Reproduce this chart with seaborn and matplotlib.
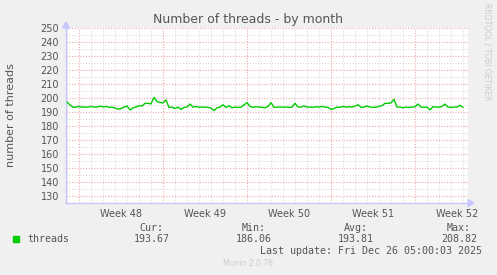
import numpy as np
import pandas as pd
import matplotlib
matplotlib.use("Agg")
import matplotlib.pyplot as plt
import seaborn as sns
from matplotlib.ticker import MultipleLocator, FixedLocator

# ---------------- data ----------------
title = "Number of threads - by month"
ylabel = "number of threads"
series_name = "threads"
week_labels = ["Week 48", "Week 49", "Week 50", "Week 51", "Week 52"]
y_ticks = [130, 140, 150, 160, 170, 180, 190, 200, 210, 220, 230, 240, 250]
threads = [
    197.1, 195.0, 193.3, 193.5, 194.0, 193.5, 193.5, 193.5, 194.0, 193.5,
    193.5, 194.2, 193.6, 194.0, 193.3, 193.5, 192.8, 192.0, 192.5, 193.5,
    194.3, 191.5, 193.0, 193.5, 194.5, 194.3, 196.2, 196.2, 195.8, 200.5,
    197.5, 196.8, 196.5, 198.6, 193.3, 193.5, 192.5, 193.5, 191.8, 193.3,
    193.5, 195.7, 193.5, 194.0, 193.3, 193.5, 193.5, 193.3, 192.8, 191.0,
    193.0, 193.5, 195.2, 193.3, 194.5, 193.0, 193.5, 193.3, 193.5, 195.0,
    196.7, 194.0, 193.3, 193.8, 193.5,
    193.3, 193.0, 194.0, 196.7, 193.3, 193.5, 193.5, 193.5, 193.5, 193.3,
    193.5, 196.2, 193.6, 193.5, 194.3, 193.5, 193.5, 193.3, 193.8, 193.5,
    194.0, 193.5, 193.3, 191.8, 192.5, 193.5, 193.3, 194.0, 193.5, 193.8,
    193.5, 194.2, 195.2, 193.3, 193.5, 194.3, 193.5, 193.3, 193.5, 194.0,
    194.5, 196.2, 196.2, 196.5, 199.1, 193.5, 193.5, 193.0, 193.5, 193.3,
    193.5, 193.8, 195.7, 193.5, 193.3, 193.5, 191.5, 193.8, 193.5, 193.5,
    194.0, 195.7, 193.5, 193.3, 193.5, 193.5, 194.8, 193.3,
]
legend_headers = ["Cur:", "Min:", "Avg:", "Max:"]
legend_values = ["193.67", "186.06", "193.81", "208.82"]
last_update = "Last update: Fri Dec 26 05:00:03 2025"
version = "Munin 2.0.76"
watermark = "RRDTOOL / TOBI OETIKER"

# ---------------- layout ----------------
W, H = 497, 275
DPI = 100
sns.set_theme(style="white")
plt.rcParams["font.family"] = ["DejaVu Sans"]

fig = plt.figure(figsize=(W / DPI, H / DPI), dpi=DPI, facecolor="#F0F0F0")
L, R, T, B = 66, 468, 28, 203
ax = fig.add_axes([L / W, 1 - B / H, (R - L) / W, (B - T) / H])
ax.set_facecolor("white")

# time axis in days: 0 at left edge (px 66), 12 px per day
step = 0.25
x0 = 1.0 / 12
days = x0 + step * np.arange(len(threads))
df = pd.DataFrame({"day": days, "threads": threads})

ax.set_xlim(0, (R - L) / 12)
ax.set_ylim(125, 250)

# grid
first_major = 13 / 12
minor_x = [first_major - 1 + k for k in range(0, 35) if first_major - 1 + k <= (R - L) / 12]
major_x = [first_major + 7 * k for k in range(5)]
for xv in minor_x:
    if not any(abs(xv - m) < 1e-6 for m in major_x):
        ax.axvline(xv, color="#DDDDDD", lw=0.8, ls=(0, (1, 1.5)), zorder=1)
for yv in np.arange(125, 251, 5):
    if yv % 10 != 0:
        ax.axhline(yv, color="#DDDDDD", lw=0.8, ls=(0, (1, 1.5)), zorder=1)
for yv in y_ticks:
    ax.axhline(yv, color="#EBA8A8", lw=0.8, ls=(0, (1, 1.5)), zorder=1)
for xv in major_x:
    ax.axvline(xv, color="#EBA8A8", lw=0.8, ls=(0, (1, 1.5)), zorder=1)

sns.lineplot(data=df, x="day", y="threads", ax=ax, color="#00CC00", lw=1.0, zorder=3)

# ticks
ax.yaxis.set_major_locator(FixedLocator(y_ticks))
ax.set_yticklabels([str(v) for v in y_ticks])
ax.set_xticks([m + 3.5 for m in major_x])
ax.set_xticklabels(week_labels)
ax.tick_params(axis="both", length=0, labelsize=7, labelcolor="#555555")
ax.tick_params(axis="y", pad=5)
ax.tick_params(axis="x", pad=4)
ax.set_xlabel("")
ax.set_ylabel("")

for s in ["top", "right"]:
    ax.spines[s].set_visible(False)
for s in ["left", "bottom"]:
    ax.spines[s].set_color("#C8C8FF")
    ax.spines[s].set_linewidth(1.0)

# axis arrows
fig.patches.append(matplotlib.patches.FancyArrow(
    L / W, 1 - T / H, 0, 6 / H, width=0.0005, head_width=7 / W, head_length=6 / H,
    length_includes_head=True, color="#C8C8FF", transform=fig.transFigure))
fig.patches.append(matplotlib.patches.FancyArrow(
    R / W, 1 - B / H, 6 / W, 0, width=0.0005, head_width=7 / H, head_length=6 / W,
    length_includes_head=True, color="#C8C8FF", transform=fig.transFigure))

# texts
fig.text(248 / W, 1 - 19 / H, title, ha="center", va="center", fontsize=9, color="#555555")
fig.text(11 / W, 1 - 115.5 / H, ylabel, ha="center", va="center", rotation=90,
         fontsize=8, color="#555555")
fig.text(487 / W, 1 - 52 / H, watermark, ha="center", va="center", rotation=270,
         fontsize=5.5, color="#CCCCCC")

mono = "DejaVu Sans Mono"
fig.patches.append(matplotlib.patches.Rectangle(
    (13 / W, 1 - 242 / H), 6 / W, 6 / H, color="#00CC00", transform=fig.transFigure))
fig.text(27 / W, 1 - 239 / H, series_name, ha="left", va="center", fontsize=7.2,
         family=mono, color="#555555")
head_right = [163, 266, 368, 471]
val_right = [170, 272, 374, 477]
for h, v, hr, vr in zip(legend_headers, legend_values, head_right, val_right):
    fig.text(hr / W, 1 - 228 / H, h, ha="right", va="center", fontsize=7.2,
             family=mono, color="#555555")
    fig.text(vr / W, 1 - 239 / H, v, ha="right", va="center", fontsize=7.2,
             family=mono, color="#555555")
fig.text(482 / W, 1 - 251 / H, last_update, ha="right", va="center", fontsize=7.2,
         family=mono, color="#555555")
fig.text(248 / W, 1 - 264 / H, version, ha="center", va="center", fontsize=5.5,
         color="#CCCCCC")

fig.savefig("out.png", dpi=DPI, facecolor=fig.get_facecolor())
